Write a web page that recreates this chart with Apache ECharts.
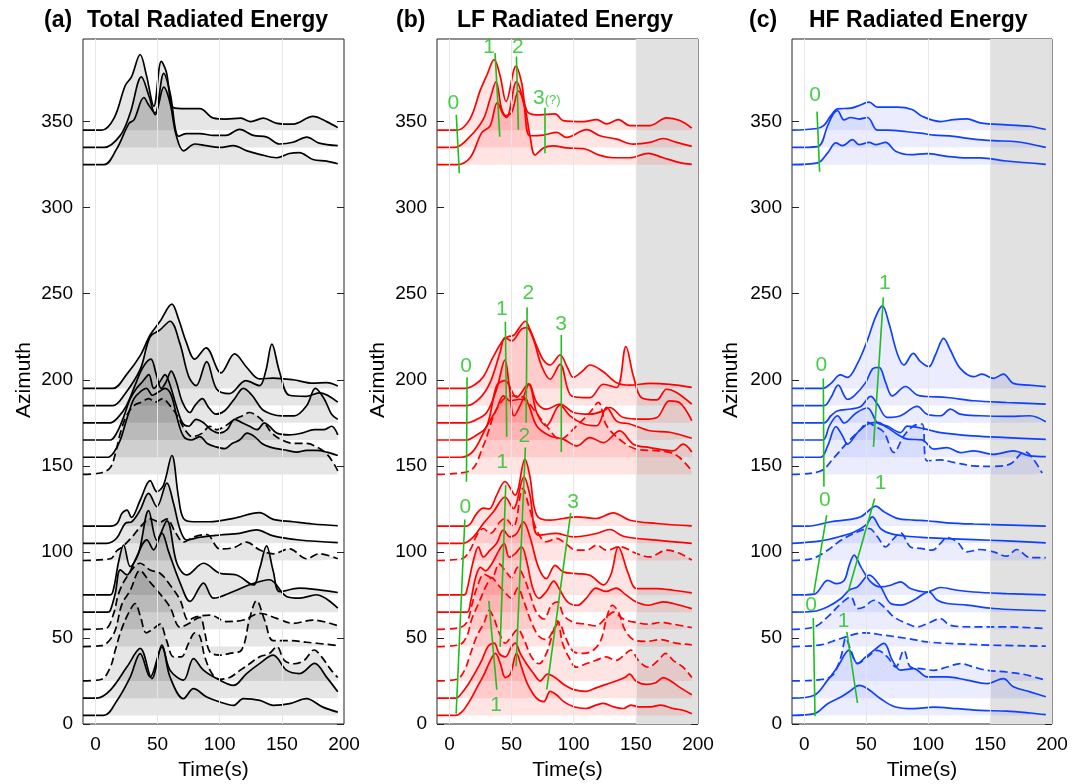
<!DOCTYPE html>
<html><head><meta charset="utf-8">
<script src="https://cdn.jsdelivr.net/npm/echarts@6/dist/echarts.min.js"></script>
<style>html,body{margin:0;padding:0;background:#fff}#c{width:1084px;height:784px}</style>
</head><body><div id="c"></div>
<script>
// ---------------- data ----------------
const azimuths = [345,335,325,195,185,175,165,155,145,115,105,95,75,65,55,45,25,15,5];
const dashedTrace = [0,0,0,0,0,0,0,0,1,0,0,1,0,0,1,1,1,0,0];
const xTickValues = [0,50,100,150,200];
const yTickValues = [0,50,100,150,200,250,300,350];
const gridTimes = [0,50,100,150];
const shadeRange = [150,200];

// (a) Total radiated energy: [time, height above azimuth baseline]
const totalEnergy = [
 [[-10,0],[5,0],[15,7],[24,26],[29,31],[36,44],[41,32],[47,14],[53,40],[57,34],[63,13],[73,12.5],[84,12.5],[95,7],[105,6.5],[117,7],[125,5],[135,7],[146,4],[159,3.5],[175,8],[186,5],[195,1.5]],
 [[-10,0],[7,0],[20,7],[28,20],[37,41],[43,30],[48,19],[55,43],[60,32],[67,6.5],[73,8],[84,8],[95,7],[105,7],[116,10.5],[127,7],[138,6],[148,2],[159,3],[170,6],[180,2.5],[195,1]],
 [[-10,0],[7,0],[17,9],[27,24],[31,26],[39,39],[43,34.5],[48,30],[55,45],[60,36],[65,17],[71,8],[80,12],[89,11],[100,10],[111,11],[122,8],[132,6],[146,4],[156,6.5],[164,7],[175,3],[186,2],[195,0.5]],
 [[-10,0],[14,0],[25,8],[36,19],[44,31],[52,39],[61.5,49],[67,40],[73,27],[80,17],[89,23.5],[101,9],[112,20],[122,12],[132,5.5],[143,6],[159,5],[175,3],[186,3.3],[195,1.4]],
 [[-10,0],[14,0],[23,6],[36,21],[44,40],[52,44],[60,49],[68,36],[75,17],[81,11.6],[89.5,25.6],[97.5,9.7],[108,7],[121,14.5],[132,11.6],[137,20],[142,35.7],[148,20],[156,6],[170,5.4],[180,7.4],[195,2]],
 [[-10,0],[12,0],[18,3],[25,10],[32,22],[38,32],[44.6,37],[49,28],[53,20],[57,24],[61,30],[65,24],[70,12],[76,6],[80,10],[86,14],[91,9],[97,5],[104,7],[112,14],[119,20],[126,16],[134,8],[142,5],[150,4],[160,4],[170,10],[177,20],[184,14],[190,5],[195,2]],
 [[-10,0],[12,0],[17,4],[22,12],[28,24],[33,30],[38,34],[43,38],[47,30],[52,34],[56,38],[60,32],[65,20],[70,10],[75,8],[81,12],[87,10],[93,6],[100,4],[106,6],[112,12],[118,10],[124,8],[130,6],[136,10],[140,8],[146,4],[156,3],[166,4],[176,6],[184,6],[190,8],[195,3]],
 [[-10,0],[10,0],[15,3],[20,10],[26,24],[31,34],[36,38],[41,40],[46,36],[51,38],[56,40],[61,36],[66,22],[71,12],[77,10],[84,12],[90,8],[97,6],[104,5],[110,8],[116,10],[122,14],[128,12],[134,8],[140,6],[146,5],[154,4],[162,3],[170,4],[178,4],[186,3],[195,1]],
 [[-10,0],[5,1],[12,4],[16,12],[20,24],[25,34],[31,40],[37,42],[43,44],[48,42],[54,44],[60,40],[66,34],[72,26],[78,22],[86,24],[92,28],[98,26],[104,28],[112,32],[118,34],[124,36],[130,34],[136,30],[142,24],[150,20],[160,18],[170,18],[178,16],[186,12],[192,6],[195,2]],
 [[-10,0],[12,0],[17.4,1.5],[21.4,7.4],[25.4,9.3],[29,5],[36,15],[44,26.4],[49.4,20],[54.8,23.8],[61.5,41],[66.8,17],[70.8,4.5],[79,2.5],[92,2.5],[111,4.5],[132,7.8],[143,3.9],[159,2.5],[175,1.2],[195,0.2]],
 [[-10,0],[9,0],[17,2.9],[24,11.6],[29.4,12.6],[36,19.4],[42.8,29],[49.4,21.3],[57.5,35],[62.8,23.3],[68.2,7.8],[73.5,1.9],[84,3.5],[100,4.8],[116,5.8],[129.6,7.8],[143,4.3],[164,1.9],[195,0.4]],
 [[-10,0],[12,1],[17.4,5.8],[21.4,7.8],[29.4,13.6],[36,19.4],[44,24.2],[52,22.3],[57.5,24.2],[64.2,16.5],[70.8,10.7],[79,13.6],[89.5,15.1],[100,6.8],[111,7.4],[121.6,10.7],[132,6.2],[143,3.9],[156,6.8],[170,1],[180,3.9],[195,1]],
 [[-10,0],[12,0],[14.7,3.9],[18.7,19.4],[22.7,29],[28,16.5],[34.7,24.2],[42.8,49],[49.4,31.8],[57.5,43],[65.5,18.4],[73.5,11.6],[87,18.4],[100,12.6],[113.6,11.6],[127,5.8],[132,15],[137.7,28.5],[143,14],[148.4,1.9],[164,3.9],[180,2.9],[195,1.4]],
 [[-10,0],[10,0],[12,1],[16,11],[20,24.6],[25.4,21.7],[32,30.4],[41.4,42],[46.8,36.2],[53.5,45.9],[58.8,35.3],[68.2,16.9],[76.2,6.2],[87,16.9],[95,8.1],[111,12],[124,15.9],[140,18.8],[153.7,9.1],[164.4,8.1],[177.8,10.1],[195,2.3]],
 [[-10,0],[8,0.5],[14.7,9.3],[18.7,20.9],[25.4,30.6],[36,38.4],[44,34.5],[52,32.6],[60,25.8],[68.2,17],[74.8,5.4],[81.5,7.4],[92.2,8.3],[105.6,4.5],[119,5.4],[132.3,9.3],[145.7,6.4],[159,3.5],[175,5.4],[195,2.1]],
 [[-10,0],[5,0.5],[14.7,7.4],[21.4,24.8],[28,32.6],[36,44.2],[42.8,38.4],[52,30.6],[60,22.9],[68.2,11.2],[74.8,13.2],[84,17],[88,8],[92,-3],[100,-5],[108,-4],[117.6,-2],[124.3,17],[129.6,26.7],[136.3,15],[143,3.5],[156,3.5],[170,2.5],[195,0.6]],
 [[-10,0],[5,1],[12,8],[16,18],[21,30],[27,40],[32,45],[36,38],[41,28],[46,30],[52,33],[57,24],[63,14],[69,14],[75,22],[80,28],[84,26],[88,14],[94,4],[100,1],[108,2],[116,6],[124,10],[132,14],[140,16],[146,20],[152,12],[160,10],[168,12],[176,18],[182,14],[190,6],[195,2]],
 [[-10,0],[1,0],[12,4.7],[25.4,18.2],[36,28.9],[45.4,11.4],[53.5,30.8],[60,16.3],[70.8,10.5],[78.9,23],[86.9,16.3],[97.6,11.4],[111,7.4],[121.6,14.3],[132.3,20.2],[143,25],[153.7,16.3],[164.4,14.3],[176.4,20.2],[185.8,12.4],[195,3.7]],
 [[-10,0],[6.7,0],[17.4,8.7],[28,22.3],[36,35.9],[44,22.3],[53.5,39.7],[60,22.3],[70.8,9.7],[78.9,15.5],[89.5,10.7],[100.2,7.8],[111,5.8],[119,9.7],[132.3,8.7],[143,5.8],[156.4,6.8],[169.7,9.7],[183,4.8],[195,1.9]]
];

// (b) LF radiated energy
const lfEnergy = [
 [[-10,0],[6,0],[16.6,6.6],[24.7,23],[30,31.8],[36,41],[40.7,31.8],[45.6,16.7],[53.6,37.2],[58,27.9],[62.2,11.4],[70.2,8.9],[85,9.5],[91.6,5.6],[107.7,5],[118.4,6.2],[126.5,3.7],[135.9,6.2],[145.2,2.7],[161.3,2.7],[174.7,7.2],[185.4,5.6],[195,1.2]],
 [[-10,0],[4.5,0],[16.6,6.4],[27.3,16.5],[32.7,28.1],[37.5,38.2],[42,22.3],[46,17.4],[54,38.2],[59.5,27],[64.8,6.8],[75.6,7.2],[86.3,8.7],[94.3,5.8],[110.4,10.3],[121,6.8],[134.5,4.8],[147.9,1.9],[161.3,2.9],[172,5.2],[182.7,2.9],[195,0.6]],
 [[-10,0],[6,0],[16.6,4],[26,18.6],[32.7,22.5],[38.6,36],[44.7,28.3],[50,30.2],[55.5,42.8],[60.8,33],[64.8,16.7],[68.9,5.6],[75.6,9.7],[83.6,10.9],[94.3,9.7],[107.7,9.3],[121,5.4],[131.8,4],[145.2,4],[160,6.6],[172,4],[185.4,1.2],[195,0.2]],
 [[-10,0],[12,0],[20,2],[27.3,6.8],[35,18],[43,28],[47,30],[52,31],[56,35],[61,39],[65,34],[70,25],[75.6,16.5],[81,13.6],[89,19.4],[95,12],[99.7,6.4],[107,10],[113,13.6],[123.8,9.7],[134.5,3.3],[145.2,1.9],[161.3,2.9],[177.4,2.3],[195,0.6]],
 [[-10,0],[14,0],[24,4],[32.7,13.4],[40.7,30.8],[44.7,39.5],[50,37.6],[58,44.4],[62.2,45.3],[67.5,38.6],[74.2,23],[81,15.3],[89,24],[98.3,5.6],[113,4.6],[123.8,12.4],[134.5,10.5],[142,34.3],[148,17.2],[154.6,4.6],[166.7,3.3],[174.7,9.5],[182.7,7.6],[195,0.8]],
 [[-10,0],[14,0],[22,2],[30,6],[38,19.6],[44.7,36.6],[48,22],[52,4],[58,11.8],[64.3,22.5],[70.2,11.8],[78,7.9],[89,10.9],[99.7,6],[113,5],[124,7],[129,8.9],[140,3.1],[156,2.1],[167,3.1],[177,12.8],[185,11.8],[195,1.2]],
 [[-10,0],[14,0],[20,2],[30,8],[38,31.6],[44.7,34.5],[54,24.8],[63.5,32.6],[70.2,16],[78,8.3],[89,20.3],[97,14],[108,9.3],[118.4,8.3],[126.5,19],[134.5,11],[145.2,9.3],[161.3,5.4],[177.4,4.5],[195,1]],
 [[-10,0],[9,0],[19.3,3.7],[30,18],[38,28],[43.4,35.7],[48.8,32.8],[56.8,33.7],[62,32.8],[70.2,18.2],[81,12.4],[91.6,10.5],[102.4,6.6],[113,11.4],[123.8,8.5],[137,15.3],[148,7.6],[161.3,5.6],[180,3.7],[188,7.6],[195,3.1]],
 [[-10,0],[16,2],[27.3,16.7],[38,38],[48.8,45.7],[59.5,44.8],[67.5,38],[78,28.3],[89,20.5],[102.4,28.3],[113,36],[119.8,41.9],[126.5,28.3],[140,18.6],[150.6,14.7],[166.7,13.8],[177.4,12.8],[185.4,9.7],[195,2.1]],
 [[-10,0],[14,0],[22,7.4],[27.3,10.4],[32,10],[38,18],[44.7,25.9],[52.8,18],[60.8,38.9],[64.8,28.6],[70.2,6.4],[81,3.4],[102,5.4],[118.4,4.4],[131.8,7.7],[145.2,3.4],[166.7,1.5],[195,0.1]],
 [[-10,0],[11,0],[19.3,3.7],[27.3,11.5],[35.4,18.3],[44.7,26.9],[51.4,20.1],[60,38.6],[64.8,27.9],[71.5,4.7],[86.3,5.7],[99.7,3.7],[118.4,5.7],[129,8],[140,4.1],[166.7,1.8],[195,0]],
 [[-10,0],[10,1],[16.6,6],[22,14.7],[27.3,18.6],[32.7,15.7],[40.7,22.5],[44.7,24.4],[51.4,19.6],[59,41.9],[64.8,29.3],[71.5,15.7],[78,10.9],[86.3,12.8],[91.6,10.9],[102,6],[110.4,6],[118.4,8.9],[126.5,6],[137,8],[150.6,4.1],[161,2.1],[174.7,6],[185.4,4.1],[195,0.2]],
 [[-10,0],[12,0],[14,2.7],[19.3,20],[23.3,27.9],[27.3,22.1],[32.7,26],[38,30],[43.4,37.6],[48.8,33.7],[54.1,35.7],[59.5,42.4],[64.8,33.7],[71.5,16.3],[78,9.5],[85,17.2],[91.6,13.4],[102,12.4],[113,11.4],[124,5.8],[130,12],[135.9,27.9],[143.9,12.4],[150.6,3.7],[166.7,3.7],[180,2.7],[195,1.2]],
 [[-10,0],[14,0],[17,6],[21,20],[25,26],[29,24],[34,28],[40,36],[44,40],[48,32],[53,34],[58,38],[62,30],[67,14],[72,8],[78,12],[84,18],[88,14],[95,6],[103,4],[110,8],[118,14],[126,12],[134,14],[142,10],[150,6],[160,4],[172,6],[180,5],[195,2]],
 [[-10,0],[8,1],[14,4],[18,14],[22,24],[28,32],[34,30],[40,38],[45,34],[50,30],[55,36],[60,30],[65,20],[70,10],[76,6],[82,14],[87,16],[92,8],[100,4],[110,3],[118,2],[125,6],[132,10],[140,6],[150,4],[160,3],[170,4],[180,3],[195,1]],
 [[-10,0],[8,1],[14,6],[18,16],[24,26],[30,36],[34,40],[39,36],[44,32],[50,28],[55,34],[60,26],[66,14],[72,6],[78,4],[84,10],[88,14],[93,6],[100,-3],[108,-4],[116,-2],[122,4],[127,18],[131,24],[136,20],[141,10],[148,4],[158,3],[170,4],[182,2],[195,1]],
 [[-10,0],[6,1],[12,6],[17,16],[22,26],[28,34],[32,41],[36,36],[40,28],[45,22],[50,26],[55,30],[60,24],[66,14],[72,10],[78,16],[84,30],[87,35],[91,22],[96,14],[102,8],[110,10],[118,12],[126,14],[134,12],[142,16],[146,18],[152,12],[160,8],[168,12],[174,16],[180,12],[188,8],[195,2]],
 [[-10,0],[5,0],[10,3],[15,8],[20,14],[26,22],[31,30],[36,32],[40,26],[45,24],[50,30],[53,32],[57,26],[62,20],[68,14],[73,10],[79,14],[85,12],[92,8],[100,5],[110,4],[118,6],[126,8],[134,10],[141,12],[145,14],[150,10],[158,8],[166,9],[172,12],[178,10],[186,6],[195,2]],
 [[-10,0],[5,0],[10,2],[16,8],[22,16],[28,24],[33,32],[37,36],[41,30],[45,22],[49,24],[54,36],[58,28],[63,18],[70,10],[76,8],[81,14],[86,12],[92,8],[100,5],[110,4],[118,6],[124,7],[132,5],[140,4],[146,6],[152,5],[162,5],[170,6],[180,4],[188,3],[195,1]]
];

// (c) HF radiated energy
const hfEnergy = [
 [[-10,0],[10,1],[16,3],[21.4,8.5],[26.8,12.4],[37.5,12.8],[42.9,14],[52.3,16.3],[59,13.4],[67,13.4],[75,13.4],[87,12],[95,8.1],[110,5],[120.6,6.2],[131.3,6.6],[142,4.3],[163.4,3.1],[182.2,2.3],[195,0.4]],
 [[-10,0],[10.7,0.5],[18.8,12.6],[23,19],[26.8,21.3],[32,16],[37.5,17.4],[44.2,16.5],[51,17.4],[59,10],[67,10],[83,9.1],[93.8,8.3],[104.5,7.2],[120.6,6.4],[136.7,4.8],[152.7,3.9],[171.5,3.3],[195,0]],
 [[-10,0],[10.7,1],[18.8,6.8],[25.5,12.6],[30.8,11],[38.9,14.5],[44.2,11.6],[52.3,12.9],[57.6,11.6],[65.6,12.9],[73.7,7.8],[85.7,5.8],[99.1,6.4],[115.2,4.8],[131.3,3.9],[142,3.9],[163.4,2.1],[195,0.2]],
 [[-10,0],[14.7,0],[21.4,2.9],[29,7.8],[34.8,6.4],[42.9,14.5],[51,28.1],[57.6,41.7],[63,47.9],[68.3,37.8],[75,20.3],[80.4,13.6],[87.9,20.3],[93.8,15.5],[100.5,12.6],[105.8,19.4],[112.5,29.1],[117.9,22.3],[125.9,11.6],[136.7,6.8],[143.4,8.3],[152.7,5.8],[160.8,8.3],[168.8,2.9],[182.2,1.9],[195,1]],
 [[-10,0],[16,0],[21.4,4.7],[27.3,11.9],[34.8,3.7],[40.2,5.7],[49.6,13.5],[54.9,21.2],[60.3,22.2],[65.6,13.5],[71,5.7],[81.7,11.1],[91.1,6.1],[99.1,5.3],[115.2,4.7],[136.7,2.8],[163.4,1.8],[195,0.9]],
 [[-10,0],[16,0],[21.4,4.1],[26.8,7],[37.5,8],[45.6,9.5],[53.6,15.3],[59,10.9],[67,3.1],[77.7,4.1],[91.1,9.5],[99.1,5],[109.9,4.1],[117.9,8],[125.9,5],[142,4.1],[163.4,3.7],[182.2,4.1],[195,0.6]],
 [[-10,0],[14.7,0],[20.1,8.1],[26.8,14.1],[32.2,9.9],[41.5,15.6],[51,18.6],[59,9.9],[67,8.1],[77.7,4.3],[83,8.1],[96.5,6.6],[109.9,4.3],[136.7,2.4],[163.4,1.4],[195,0.4]],
 [[-10,0],[13,0],[18.8,6.6],[25.5,17.8],[30.8,12.4],[34.8,7.6],[42.9,14.3],[51,19.2],[59,20.2],[67,17.2],[75,13.4],[83,10.5],[95.1,10.1],[104.5,4.7],[115.2,5.6],[125.9,2.7],[136.7,3.7],[152.7,1.7],[168.8,3.7],[182.2,0.8],[195,0.4]],
 [[-10,0],[13,2],[24.1,9.9],[34.8,18.6],[45.6,26.4],[51,30.2],[56.3,28.3],[64.3,24.4],[72.3,12.8],[80.4,22.5],[88.4,28.3],[95.1,29.3],[99.1,7.9],[109.9,8.5],[120.6,7],[136.7,5],[152.7,4.7],[166.1,6],[178.2,13.2],[184.9,8.9],[192,0.8]],
 [[-10,0],[3,0],[21.4,2.5],[37.5,3.9],[45.6,5.4],[51,8.3],[57.6,11.6],[64.3,8.3],[75,4.5],[88.4,3.5],[99.1,3.1],[115.2,1.9],[136.7,1.2],[195,0]],
 [[-10,0],[13.4,1.4],[29.5,4.1],[40.2,6.6],[49.6,10.5],[54.9,15.3],[61.6,8.5],[69.7,5.6],[83,4.1],[99.1,3.3],[115.2,2.7],[136.7,2.1],[163.4,1.4],[195,0.2]],
 [[-10,0],[6.7,1.2],[18.8,6],[29.5,11.8],[40.2,15.7],[52.3,18.6],[59,13.8],[65.6,7.9],[71,11.8],[77.7,16.1],[85.7,7.9],[93.8,7],[103.2,6],[109.9,9.9],[115.2,13.4],[123.3,10.9],[131.3,5],[142,6.4],[152.7,5],[163.4,2.5],[171.5,6.4],[182.2,1.7],[195,1.7]],
 [[-10,0],[8,0.5],[18.8,8.5],[25.5,6.6],[32.2,8.5],[36.2,17.2],[40.2,23.1],[45.6,16.3],[53.6,7.6],[61.6,4.7],[69.7,5.6],[77.7,7.6],[85.7,3.7],[99.1,1.7],[109.9,4.3],[123.3,2.7],[136.7,1.7],[163.4,0.8],[195,0]],
 [[-10,0],[8,0.5],[18.8,3.1],[29.5,7.9],[36.2,12.8],[42.9,14.7],[52.3,21.5],[61.6,14.7],[69.7,5],[77.7,4.1],[88.4,7],[100.5,11.8],[107.2,7],[115.2,5],[131.3,4.1],[152.7,2.1],[195,0.8]],
 [[-10,0],[8,1.4],[18.8,7.2],[29.5,14.9],[37.5,18.8],[42.9,12],[48.2,13],[56.3,16.9],[64.3,13],[72.3,7.2],[83,3.3],[91.1,1.4],[99.1,3.3],[109.9,6.2],[117.9,2.3],[136.7,1.4],[163.4,1.4],[195,0.4]],
 [[-10,0],[13.4,1],[29.5,4.7],[48.2,8],[64.3,6.6],[83,4.7],[99.1,2.7],[120.6,1.7],[152.7,0.8],[195,0.2]],
 [[-10,0],[13,0.8],[22.8,3.3],[29.5,14],[33.5,24.8],[37.5,17.8],[42.9,10.1],[51,14],[59,17.8],[67,14],[73.7,8.1],[80.4,17.8],[85.7,8.1],[93.8,7.2],[104.5,6.2],[115.2,8.1],[125.9,10.1],[136.7,8.1],[147.4,6.2],[163.4,5.2],[176.8,3.9],[195,0.4]],
 [[-10,0],[8,1.7],[18.8,10.5],[26.8,18.2],[36.2,27.9],[42.9,20.2],[49.6,24],[56.3,27.9],[64.3,31.8],[71,22.1],[77.7,16.3],[88.4,17.2],[99.1,12.4],[115.2,12.4],[131.3,10.5],[147.4,8.5],[160.8,11.4],[168.8,6.6],[182.2,3.7],[195,0.8]],
 [[-10,0],[8,1],[18.8,6.8],[29.5,10.7],[37.5,14.5],[44.2,17.4],[51,15.5],[61.6,9.7],[72.3,5.2],[88.4,3.9],[104.5,4.8],[123.3,3.9],[142,2.9],[163.4,2.5],[182.2,1.4],[195,0.4]]
];

// green phase-picking annotations: [[t1,az1],[t2,az2]]
const lfPickLines = [
 [[5.5,354],[8,320]], [[36.7,389.8],[40.5,341.3]], [[53.9,387.8],[55.5,345.2]], [[76.9,358.1],[76.9,331.6]],
 [[14.2,201.4],[13.7,140.7]], [[45,233.7],[46.1,166.9]], [[62.5,242.1],[61.7,175]], [[90,226],[90,158.1]],
 [[12.4,118.8],[5.4,6]], [[45.3,138.8],[40.8,44.8]], [[61.1,160.7],[53.6,33.5]], [[97.6,122.7],[78.3,20]], [[31.7,71.5],[38.1,20]]
];
const lfPickLabels = [
 ['0',3.2,360.5], ['1',31.9,393], ['2',55,393], ['3',78.3,363.6], ['0',13.4,208], ['1',42.1,241], ['2',63.5,250.2],
 ['3',89.8,232.4], ['2',60.3,167], ['1',42.6,152.3], ['0',12.9,126.2], ['3',99.4,129], ['1',37.5,10.9]
];
const hfPickLines = [
 [[10.2,355.8],[12.3,320.9]], [[63.8,247.9],[55.8,161]], [[15.3,200.8],[15.8,137.8]], [[56.8,131],[35.4,76.8]],
 [[18,121.3],[7.6,76.2]], [[7.2,61.6],[8.6,4.5]], [[34.3,53.5],[42.9,12.2]]
];
const hfPickLabels = [
 ['0',8.6,365.5], ['1',64.9,256], ['0',13.7,208.5], ['1',61.6,139.8], ['0',16.6,130], ['0',5.4,69], ['1',31.7,59.9]
];

// ---------------- chart ----------------
const FONT = 'Liberation Sans, Arial, Helvetica, sans-serif';
const GREEN = '#1dbf1d';
const panels = [
  {left:83, width:261, traces:totalEnergy, line:'#000000', fill:'rgba(0,0,0,0.14)', shade:false,
   title:'Total Radiated Energy', tag:'(a)', tagX:44, titleX:87, azX:24},
  {left:437, width:261, traces:lfEnergy, line:'#ff0000', fill:'rgba(255,0,0,0.15)', shade:true,
   title:'LF Radiated Energy', tag:'(b)', tagX:396, titleX:457, azX:378, picks:lfPickLines, labels:lfPickLabels},
  {left:792, width:260, traces:hfEnergy, line:'#1040ff', fill:'rgba(30,60,255,0.13)', shade:true,
   title:'HF Radiated Energy', tag:'(c)', tagX:749, titleX:809, azX:731, picks:hfPickLines, labels:hfPickLabels}
];

const grids = [], xAxes = [], yAxes = [], series = [], graphics = [];
panels.forEach((p, i) => {
  grids.push({left:p.left, width:p.width, top:39, bottom:60, show:true, borderColor:'#222', borderWidth:1, backgroundColor:'transparent'});
  xAxes.push({type:'value', gridIndex:i, min:-10, max:200, position:'bottom',
    axisLine:{show:false, onZero:false}, splitLine:{show:false}, axisTick:{show:false},
    axisLabel:{customValues:xTickValues, fontSize:19, color:'#000', margin:11, fontFamily:FONT}});
  xAxes.push({type:'value', gridIndex:i, min:-10, max:200, position:'top',
    axisLine:{show:false, onZero:false}, splitLine:{show:false}, axisLabel:{show:false},
    axisTick:{show:true, inside:true, length:6, customValues:gridTimes, lineStyle:{color:'#222'}}});
  yAxes.push({type:'value', gridIndex:i, min:0, max:398, position:'left',
    axisLine:{show:false, onZero:false}, splitLine:{show:false},
    axisTick:{show:true, inside:true, length:7, customValues:yTickValues, lineStyle:{color:'#222'}},
    axisLabel:{customValues:yTickValues, fontSize:19, color:'#000', margin:10, fontFamily:FONT}});
  yAxes.push({type:'value', gridIndex:i, min:0, max:398, position:'right',
    axisLine:{show:false, onZero:false}, splitLine:{show:false}, axisLabel:{show:false},
    axisTick:{show:true, inside:true, length:7, customValues:yTickValues, lineStyle:{color:'#222'}}});
  const xi = i*2, yi = i*2;
  const bg = {type:'line', xAxisIndex:xi, yAxisIndex:yi, data:[], silent:true, z:1,
    markLine:{silent:true, symbol:['none','none'], label:{show:false}, animation:false,
      lineStyle:{color:'#e6e6e6', type:'solid', width:1},
      data: gridTimes.map(t => ({xAxis:t}))}};
  if (p.shade) bg.markArea = {silent:true, itemStyle:{color:'#e1e1e1'}, animation:false,
      data:[[{xAxis:shadeRange[0]},{xAxis:shadeRange[1]}]]};
  series.push(bg);
  p.traces.forEach((pts, k) => {
    const base = azimuths[k];
    series.push({type:'line', xAxisIndex:xi, yAxisIndex:yi, silent:true, animation:false, z:2,
      data: pts.map(q => [q[0], base + q[1]]),
      smooth:0.35, showSymbol:false, symbol:'none', clip:true,
      lineStyle:{color:p.line, width:1.7, type: dashedTrace[k] ? [8,4] : 'solid'},
      areaStyle:{color:p.fill, origin:base}});
  });
  if (p.picks) {
    p.picks.forEach(seg => series.push({type:'line', xAxisIndex:xi, yAxisIndex:yi, silent:true, animation:false, z:5,
      data:seg, symbol:'none', lineStyle:{color:GREEN, width:1.6}}));
    series.push({type:'scatter', xAxisIndex:xi, yAxisIndex:yi, silent:true, animation:false, z:6,
      symbolSize:1, itemStyle:{color:'rgba(0,0,0,0)'},
      data: p.labels.map(l => ({value:[l[1], l[2]], name:l[0]})),
      label:{show:true, position:'inside', color:GREEN, fontSize:21, fontFamily:FONT,
        formatter: d => (i===1 && d.name==='3' && d.value[1]>300) ? '3{s|(?)}' : d.name,
        rich:{s:{fontSize:13, color:GREEN, fontFamily:FONT, padding:[5,0,0,0]}}}});
  }
  graphics.push({type:'text', left:p.tagX, top:9, style:{text:p.tag, font:'bold 23px '+FONT, fill:'#000'}});
  graphics.push({type:'text', left:p.titleX, top:9, style:{text:p.title, font:'bold 23px '+FONT, fill:'#000'}});
  graphics.push({type:'text', x:p.azX, y:380, rotation:Math.PI/2,
    style:{text:'Azimuth', font:'21px '+FONT, fill:'#000', align:'center', verticalAlign:'middle'}});
  graphics.push({type:'text', x:p.left + p.width/2, y:770,
    style:{text:'Time(s)', font:'21px '+FONT, fill:'#000', align:'center', verticalAlign:'middle'}});
});

const chart = echarts.init(document.getElementById('c'), null, {renderer:'canvas'});
chart.setOption({animation:false, backgroundColor:'#fff', grid:grids, xAxis:xAxes, yAxis:yAxes, series:series, graphic:graphics});
</script></body></html>
